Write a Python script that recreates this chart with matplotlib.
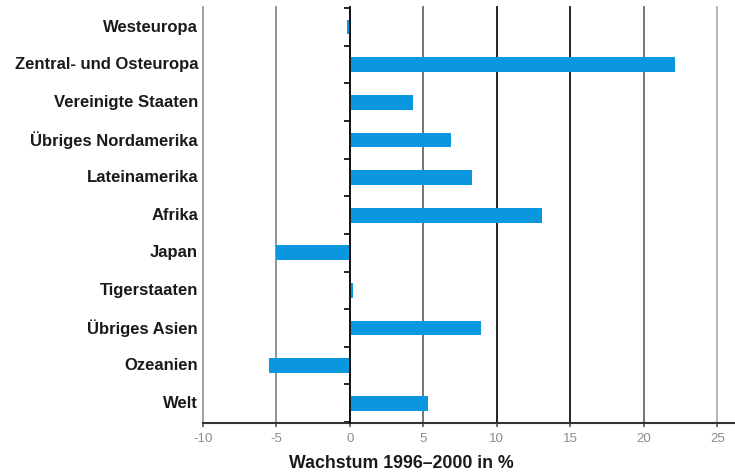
import matplotlib.pyplot as plt
import numpy as np

plt.rcParams['font.family'] = ['Liberation Sans', 'DejaVu Sans']

# Daten
regionen = ['Westeuropa', 'Zentral- und Osteuropa', 'Vereinigte Staaten',
            'Übriges Nordamerika', 'Lateinamerika', 'Afrika', 'Japan',
            'Tigerstaaten', 'Übriges Asien', 'Ozeanien', 'Welt']
wachstum = [-0.2, 22.1, 4.3, 6.9, 8.3, 13.1, -5.0, 0.2, 8.9, -5.5, 5.3]
x_ticks = [-10, -5, 0, 5, 10, 15, 20, 25]
grid_farben = ['#9a9a9a', '#8a8a8a', '#222222', '#6a6a6a',
               '#111111', '#111111', '#6a6a6a', '#b0b0b0']

fig = plt.figure(figsize=(7.35, 4.75), dpi=100)
ax = fig.add_axes([0.276, 0.109, 0.724, 0.876])

y = np.arange(len(regionen))

# Gitterlinien
for xt, c in zip(x_ticks, grid_farben):
    ax.axvline(xt, color=c, lw=1.3, zorder=1, clip_on=False)

ax.barh(y, wachstum, height=0.39, color='#0b97e0', zorder=3)

ax.set_xlim(-10, 26.2)
ax.set_ylim(len(regionen) - 0.47, -0.53)

ax.spines['top'].set_visible(False)
ax.spines['right'].set_visible(False)
ax.spines['left'].set_position(('data', 0))
ax.spines['left'].set_color('#111111')
ax.spines['left'].set_linewidth(1.3)
ax.spines['left'].set_zorder(4)
ax.spines['bottom'].set_color('#333333')
ax.spines['bottom'].set_linewidth(1.5)

ax.set_yticks(y)
ax.set_yticklabels([])
ax.tick_params(axis='y', which='major', length=0)
ax.set_yticks(np.arange(len(regionen) + 1) - 0.5, minor=True)
ax.tick_params(axis='y', which='minor', length=4, width=1.3,
               color='#111111', direction='out')

ax.set_xticks(x_ticks)
ax.set_xticklabels([str(t) for t in x_ticks])
ax.tick_params(axis='x', length=3, width=1.2, color='#555555',
               labelsize=9.5, labelcolor='#8c8c8c', pad=4)

for yi, name in zip(y, regionen):
    ax.text(-0.009, yi, name, transform=ax.get_yaxis_transform(),
            ha='right', va='center', fontsize=12, fontweight='bold',
            color='#1a1a1a')

fig.text(0.546, 0.024, 'Wachstum 1996–2000 in %', ha='center', va='center',
         fontsize=12.8, fontweight='bold', color='#1a1a1a')

fig.savefig('out.png', dpi=100)
